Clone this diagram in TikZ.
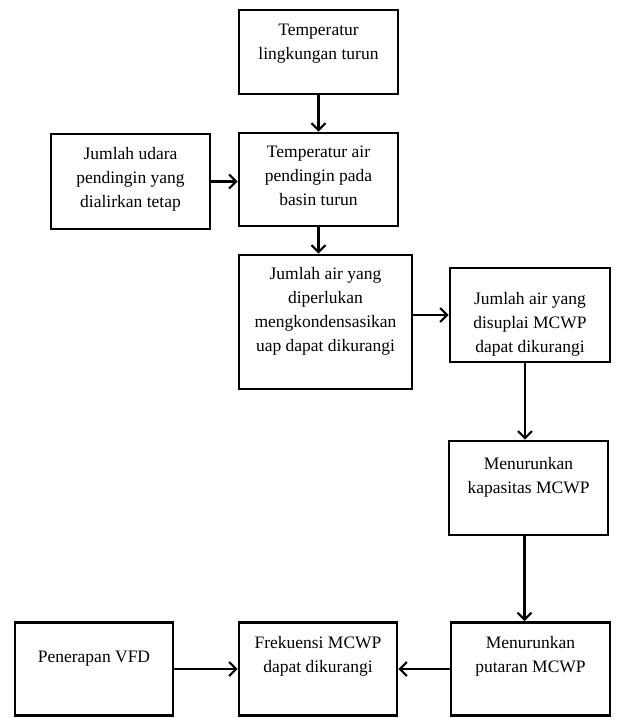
\documentclass[tikz,border=0pt]{standalone}
\usepackage{fontspec}
\setmainfont{Liberation Serif}
\usetikzlibrary{arrows.meta}
\begin{document}
\begin{tikzpicture}[x=1pt,y=-1pt,
  box/.style={draw, line width=2.6pt, inner sep=0pt, fill=white},
  txt/.style={anchor=north, align=center, inner sep=0pt, font=\fontsize{17.5}{24}\selectfont},
  arr/.style={-{Straight Barb[length=7pt,width=14pt,line width=2.2pt]}, line width=2.2pt}]
\useasboundingbox (0,0) rectangle (617,718);
% boxes
\node[box, minimum width=159pt, minimum height=84pt] (b1) at (318.5,52) {};
\node[box, minimum width=159pt, minimum height=95pt] (bl) at (130.5,181.5) {};
\node[box, minimum width=159pt, minimum height=93pt] (b2) at (318.5,179.5) {};
\node[box, minimum width=173pt, minimum height=134pt] (b3) at (325.5,322) {};
\node[box, minimum width=160pt, minimum height=94pt] (b4) at (530,315) {};
\node[box, minimum width=159pt, minimum height=94pt] (b5) at (528.5,488) {};
\node[box, minimum width=158pt, minimum height=93pt] (b6) at (94,669) {};
\node[box, minimum width=158pt, minimum height=93pt] (b7) at (318,669) {};
\node[box, minimum width=159pt, minimum height=93pt] (b8) at (530.5,669) {};
% texts
\node[txt] (t1) at ([yshift=-15pt]b1.north) {Temperatur\\lingkungan turun};
\node[txt] (tl) at ([yshift=-14pt]bl.north) {Jumlah udara\\pendingin yang\\dialirkan tetap};
\node[txt] (t2) at ([yshift=-14pt]b2.north) {Temperatur air\\pendingin pada\\basin turun};
\node[txt] (t3) at ([yshift=-13pt]b3.north) {Jumlah air yang\\diperlukan\\mengkondensasikan\\uap dapat dikurangi};
\node[txt] (t4) at ([yshift=-25pt]b4.north) {Jumlah air yang\\disuplai MCWP\\dapat dikurangi};
\node[txt] (t5) at ([yshift=-17pt]b5.north) {Menurunkan\\kapasitas MCWP};
\node[txt] (t6) at ([yshift=-30pt]b6.north) {Penerapan VFD};
\node[txt] (t7) at ([yshift=-15pt]b7.north) {Frekuensi MCWP\\dapat dikurangi};
\node[txt] (t8) at ([yshift=-15pt]b8.north) {Menurunkan\\putaran MCWP};
% connectors
\draw[arr] (b1.south) -- (b2.north);
\draw[arr] (bl.east) -- (bl.east -| b2.west);
\draw[arr] (b2.south) -- (b2.south |- b3.north);
\draw[arr] (b4.west -| b3.east) -- (b4.west);
\draw[arr] ([xshift=-5pt]b4.south) -- ([xshift=-5pt]b4.south |- b5.north);
\draw[arr] ([xshift=-4pt]b5.south) -- ([xshift=-4pt]b5.south |- b8.north);
\draw[arr] (b8.west) -- (b7.east);
\draw[arr] (b6.east) -- (b7.west);
\end{tikzpicture}
\end{document}
